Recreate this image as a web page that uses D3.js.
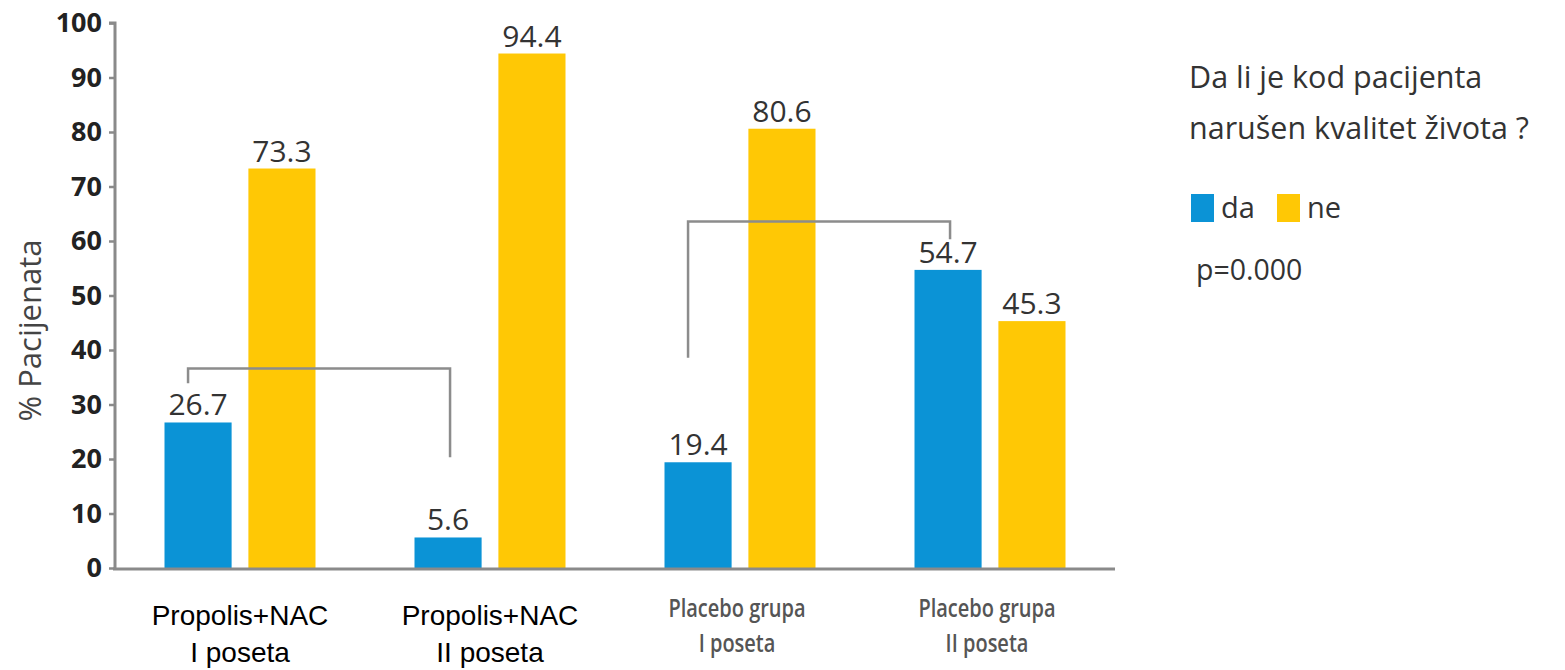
<!DOCTYPE html>
<html>
<head>
<meta charset="utf-8">
<script src="https://cdn.jsdelivr.net/npm/d3@7"></script>
<style>
  html, body { margin: 0; padding: 0; background: #fff; }
  svg { display: block; }
</style>
</head>
<body>
<svg id="chart" width="1565" height="670"></svg>
<script>
// Groups (patient cohort / visit) and answers per group
const groups = ["pn1", "pn2", "pl1", "pl2"];
const groupLabels = [
  ["Propolis+NAC", "I poseta"],
  ["Propolis+NAC", "II poseta"],
  ["Placebo grupa", "I poseta"],
  ["Placebo grupa", "II poseta"]
];
const seriesNames = ["da", "ne"];
const daValues = [26.7, 5.6, 19.4, 54.7];
const neValues = [73.3, 94.4, 80.6, 45.3];
const yTicks = [0, 10, 20, 30, 40, 50, 60, 70, 80, 90, 100];

// Significance brackets: between "da" bars of two groups, levels in % units
const bracketFrom = ["pn1", "pl1"];
const bracketTo = ["pn2", "pl2"];
const bracketTop = [36.6, 63.6];
const bracketLeftEnd = [33.9, 38.6];
const bracketRightEnd = [20.3, 60.3];

const colors = { da: "#0b93d6", ne: "#ffc805" };
const sans = "'Open Sans', Lato, sans-serif";

const svg = d3.select("#chart");

const x0 = d3.scaleBand().domain(groups).range([115, 1115]).paddingInner(0.396).paddingOuter(0.198);
const x1 = d3.scaleBand().domain(seriesNames).range([0, x0.bandwidth()]).paddingInner(0.2);
const y = d3.scaleLinear().domain([0, 100]).range([568, 23]);

const data = groups.map((g, i) => ({ g, da: daValues[i], ne: neValues[i] }));

// Bars
const gGroups = svg.append("g").selectAll("g").data(data).join("g")
  .attr("transform", d => `translate(${x0(d.g)},0)`);

gGroups.selectAll("rect").data(d => seriesNames.map(s => ({ s, v: d[s] }))).join("rect")
  .attr("x", d => x1(d.s))
  .attr("width", x1.bandwidth())
  .attr("y", d => y(d.v))
  .attr("height", d => y(0) - y(d.v))
  .attr("fill", d => colors[d.s]);

// Value labels
gGroups.selectAll("text.val").data(d => seriesNames.map(s => ({ s, v: d[s] }))).join("text")
  .attr("class", "val")
  .attr("x", d => x1(d.s) + x1.bandwidth() / 2)
  .attr("y", d => y(d.v) - 7)
  .attr("text-anchor", "middle")
  .attr("font-family", sans)
  .attr("font-size", 30)
  .attr("fill", "#333")
  .text(d => d.v.toFixed(1));

// Y axis
const yAxis = d3.axisLeft(y).tickValues(yTicks).tickSize(6).tickPadding(7);
const ya = svg.append("g").attr("transform", "translate(115,0)").call(yAxis);
ya.select(".domain").attr("stroke", "#8a8a8a").attr("stroke-width", 3).attr("d", `M-6,${y(100)}H0V${y(0)}`);
ya.selectAll(".tick line").attr("stroke", "#8a8a8a").attr("stroke-width", 2.5);
ya.selectAll(".tick text")
  .attr("font-family", sans)
  .attr("font-size", 27)
  .attr("font-weight", 700)
  .attr("fill", "#222");

// X baseline
svg.append("line")
  .attr("x1", 113).attr("x2", 1115)
  .attr("y1", y(0) + 1).attr("y2", y(0) + 1)
  .attr("stroke", "#8a8a8a").attr("stroke-width", 3);

// Y axis title
svg.append("text")
  .attr("transform", `translate(41,${(y(0) + y(100)) / 2 + 35}) rotate(-90)`)
  .attr("text-anchor", "middle")
  .attr("font-family", sans)
  .attr("font-size", 31)
  .attr("fill", "#444")
  .text("% Pacijenata");

// Category labels
const catG = svg.append("g").selectAll("g").data(groups).join("g")
  .attr("transform", g => `translate(${x0(g) + x0.bandwidth() / 2},0)`);
catG.each(function (g, i) {
  const lines = groupLabels[i];
  const big = i < 2;
  const t = d3.select(this).append("text")
    .attr("text-anchor", "middle")
    .attr("font-family", big ? "'Liberation Sans', Arial, sans-serif" : sans)
    .attr("font-size", big ? 28 : 25)
    .attr("font-weight", big ? 400 : 600)
    .attr("fill", big ? "#000" : "#555")
    .attr("transform", big ? null : "translate(-3,0) scale(0.8,1)");
  lines.forEach((ln, k) => {
    t.append("tspan")
      .attr("x", 0)
      .attr("y", big ? 625 + k * 37 : 617 + k * 35)
      .text(ln);
  });
});

// Significance brackets
bracketFrom.forEach((f, i) => {
  const xl = x0(f) + x1("da") + x1.bandwidth() / 2 - 10;
  const xr = x0(bracketTo[i]) + x1("da") + x1.bandwidth() / 2 + 2;
  svg.append("path")
    .attr("d", `M${xl},${y(bracketLeftEnd[i])}V${y(bracketTop[i])}H${xr}V${y(bracketRightEnd[i])}`)
    .attr("fill", "none")
    .attr("stroke", "#8c8c8c")
    .attr("stroke-width", 2.5);
});

// Legend
const leg = svg.append("g").attr("font-family", sans).attr("fill", "#333");
leg.append("text").attr("x", 1189).attr("y", 88).attr("font-size", 30.5).text("Da li je kod pacijenta");
leg.append("text").attr("x", 1189).attr("y", 139).attr("font-size", 30.5).text("narušen kvalitet života ?");
const items = leg.selectAll("g.item").data(seriesNames).join("g")
  .attr("class", "item")
  .attr("transform", (d, i) => `translate(${1191 + i * 86},194)`);
items.append("rect").attr("width", 23).attr("height", 28).attr("fill", d => colors[d]);
items.append("text").attr("x", 30).attr("y", 24).attr("font-size", 29).text(d => d);
leg.append("text").attr("x", 1196).attr("y", 280).attr("font-size", 28.5).text("p=0.000");
</script>
</body>
</html>
